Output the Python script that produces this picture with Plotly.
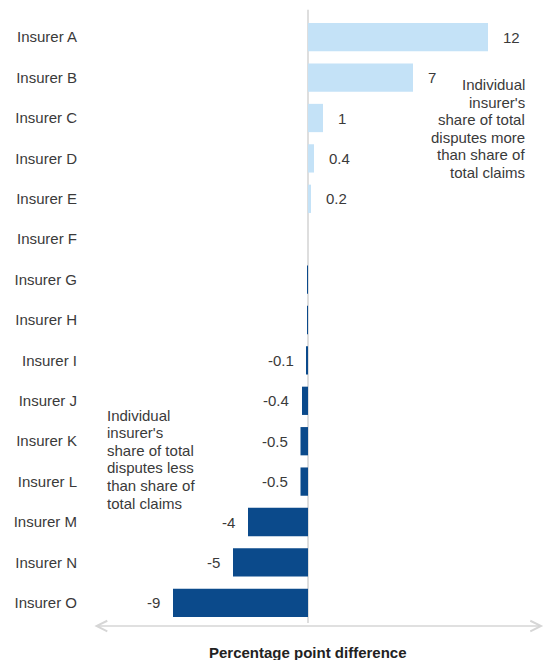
import plotly.graph_objects as go

# Percentage point difference between each insurer's share of disputes and share of claims
insurers = ["Insurer A", "Insurer B", "Insurer C", "Insurer D", "Insurer E",
            "Insurer F", "Insurer G", "Insurer H", "Insurer I", "Insurer J",
            "Insurer K", "Insurer L", "Insurer M", "Insurer N", "Insurer O"]
differences = [12, 7, 1, 0.4, 0.2, 0, -0.05, -0.05, -0.1, -0.4, -0.5, -0.5, -4, -5, -9]
value_labels = ["12", "7", "1", "0.4", "0.2", None, None, None,
                "-0.1", "-0.4", "-0.5", "-0.5", "-4", "-5", "-9"]

LIGHT_BLUE = "#c4e2f7"
DARK_BLUE = "#0b4a8b"
TEXT = "#3a3a3a"
FONT = "Liberation Sans, Arial, sans-serif"

bar_colors = [LIGHT_BLUE if v > 0 else DARK_BLUE for v in differences]

fig = go.Figure(go.Bar(
    x=differences,
    y=insurers,
    orientation="h",
    marker=dict(color=bar_colors, line=dict(width=0)),
    width=0.7,
    hoverinfo="skip",
))

annotations = []

# value labels just beyond each bar end
for name, v, lab in zip(insurers, differences, value_labels):
    if lab is None:
        continue
    annotations.append(dict(
        x=v, y=name, xref="x", yref="y", text=lab, showarrow=False,
        xanchor="left" if v > 0 else "right",
        xshift=13 if v > 0 else -11,
        font=dict(size=15, color=TEXT, family=FONT),
    ))

# explanatory notes on both sides of the zero line
note_more = ["Individual", "insurer's", "share of total", "disputes more",
             "than share of", "total claims"]
note_less = ["Individual", "insurer's", "share of total", "disputes less",
             "than share of", "total claims"]
for i, line in enumerate(note_more):
    annotations.append(dict(
        x=0.960, y=0.888, xref="paper", yref="paper", text=line,
        showarrow=False, xanchor="right", yanchor="middle",
        yshift=-17.5 * i, font=dict(size=15, color=TEXT, family=FONT),
    ))
for i, line in enumerate(note_less):
    annotations.append(dict(
        x=0.029, y=0.343, xref="paper", yref="paper", text=line,
        showarrow=False, xanchor="left", yanchor="middle",
        yshift=-17.6 * i, font=dict(size=15, color=TEXT, family=FONT),
    ))

# double-headed arrow under the bars
annotations.append(dict(
    x=0.996, y=-0.005, ax=0.002, ay=-0.005,
    xref="x domain", yref="y domain", axref="x domain", ayref="y domain",
    text="", showarrow=True, arrowside="end+start",
    arrowhead=5, arrowsize=1.3, arrowwidth=1.6, arrowcolor="#d6d6d6",
))

# axis caption
annotations.append(dict(
    x=0, y=-0.048, xref="x", yref="paper", text="<b>Percentage point difference</b>",
    showarrow=False, xanchor="center", yanchor="middle",
    font=dict(size=15, color="#222222", family=FONT),
))

fig.update_layout(
    width=545, height=660,
    margin=dict(l=92, r=0, t=17, b=37),
    paper_bgcolor="white", plot_bgcolor="white",
    showlegend=False,
    bargap=0.3,
    font=dict(family=FONT, size=15, color=TEXT),
    annotations=annotations,
    shapes=[dict(type="line", xref="x", yref="paper", x0=0, x1=0, y0=0, y1=1.012,
                 line=dict(color="#bdbdbd", width=1), layer="below")],
)
fig.update_xaxes(range=[-14.4, 15.8], showgrid=False, zeroline=False,
                 showticklabels=False, ticks="", showline=False, fixedrange=True)
fig.update_yaxes(categoryorder="array", categoryarray=insurers,
                 range=[14.5, -0.5], showgrid=False, zeroline=False,
                 ticks="", showline=False, ticklabelstandoff=14,
                 tickfont=dict(size=15, color=TEXT, family=FONT), fixedrange=True)

fig.write_html("out.html")
